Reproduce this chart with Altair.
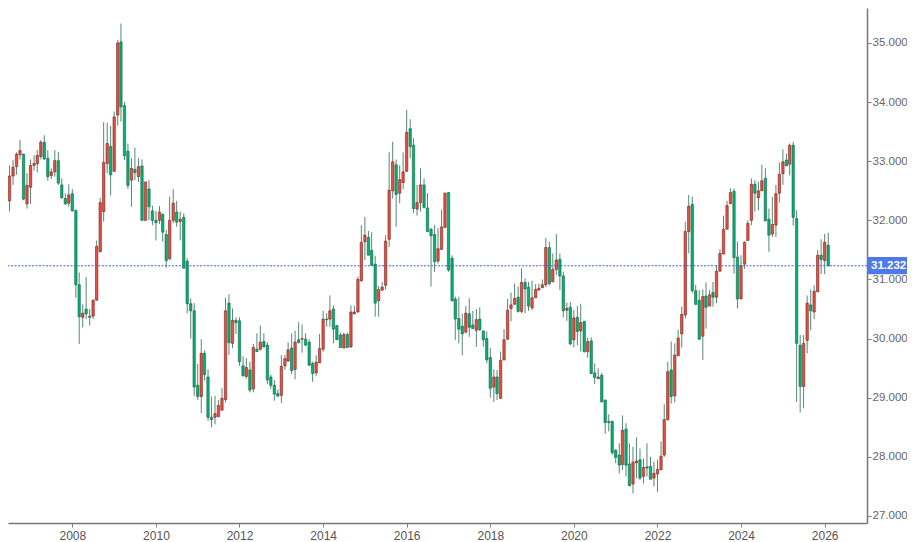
"""Monthly candlestick chart, red candles up, green candles down."""
import altair as alt
import pandas as pd

opens = [
    32.43, 31.92, 32.05, 32.33, 32.75, 32.91, 33.11, 33.12, 32.28, 32.56,
    32.93, 32.96, 33.08, 33.32, 33.05, 32.76, 32.82, 33.01, 32.60, 32.37,
    32.29, 32.45, 32.17, 30.91, 30.36, 30.50, 30.38, 30.38, 30.65, 31.47,
    32.15, 32.96, 33.25, 32.83, 33.78, 35.02, 33.94, 33.17, 32.68, 32.86,
    32.74, 32.92, 32.00, 32.53, 32.16, 32.00, 32.00, 32.10, 31.76, 31.35,
    32.00, 32.14, 31.98, 32.05, 31.31, 30.59, 30.47, 29.21, 29.02, 29.75,
    29.35, 28.67, 28.67, 28.68, 28.79, 28.97, 30.60, 29.92, 30.31, 30.30,
    29.54, 29.36, 29.47, 29.15, 29.82, 29.82, 29.95, 29.89, 29.35, 29.21,
    29.07, 29.04, 29.54, 29.62, 29.84, 29.48, 29.98, 29.99, 29.99, 29.94,
    29.58, 29.42, 29.59, 29.82, 30.33, 30.33, 30.50, 30.22, 30.06, 29.84,
    30.07, 29.86, 30.42, 30.45, 30.98, 31.64, 31.71, 31.49, 31.26, 30.64,
    30.82, 30.90, 31.68, 32.50, 32.94, 32.46, 32.64, 32.83, 33.55, 33.27,
    32.19, 32.30, 32.60, 32.21, 31.85, 31.76, 31.31, 31.51, 31.88, 32.47,
    31.36, 30.67, 30.34, 30.21, 30.11, 30.42, 30.23, 30.14, 30.33, 30.13,
    30.00, 29.68, 29.18, 29.35, 28.99, 29.64, 29.99, 30.51, 30.58, 30.70,
    30.46, 30.95, 30.87, 30.52, 30.69, 30.82, 30.86, 30.91, 31.54, 30.96,
    31.17, 31.34, 31.06, 30.48, 30.53, 29.98, 30.36, 30.13, 30.29, 29.78,
    29.96, 29.42, 29.32, 29.38, 28.96, 28.60, 28.60, 28.11, 28.03, 27.87,
    28.47, 27.88, 27.54, 27.90, 27.95, 27.67, 27.83, 27.84, 27.64, 27.71,
    27.78, 28.03, 28.63, 29.47, 29.03, 29.71, 30.08, 30.40, 31.81, 32.27,
    30.81, 30.65, 30.04, 30.72, 30.55, 30.78, 30.70, 31.14, 31.43, 31.85,
    32.28, 32.49, 31.38, 30.67, 31.26, 31.66, 32.00, 32.61, 32.38, 32.50,
    32.71, 32.02, 31.77, 31.92, 32.46, 32.79, 33.02, 32.95, 33.27, 32.03,
    29.89, 29.19, 29.97, 30.57, 30.45, 30.79, 31.41, 31.32, 31.58,
]
closes = [
    31.89, 32.03, 32.37, 32.75, 32.90, 33.12, 33.18, 32.36, 32.59, 32.93,
    32.96, 33.10, 33.32, 33.04, 32.74, 32.82, 33.01, 32.63, 32.38, 32.28,
    32.43, 32.16, 30.91, 30.37, 30.43, 30.42, 30.36, 30.65, 31.56, 32.30,
    32.98, 33.30, 32.77, 33.75, 35.00, 33.92, 33.09, 32.59, 32.88, 32.81,
    32.91, 32.00, 32.65, 32.23, 32.00, 31.96, 32.14, 31.80, 31.32, 32.00,
    32.29, 31.97, 32.02, 31.19, 30.59, 30.47, 29.18, 29.02, 29.75, 29.39,
    28.67, 28.63, 28.73, 28.87, 28.99, 30.47, 29.93, 30.31, 30.27, 29.61,
    29.37, 29.51, 29.13, 29.85, 29.78, 29.94, 29.86, 29.30, 29.21, 29.06,
    29.03, 29.53, 29.66, 29.81, 29.46, 29.94, 29.93, 30.00, 29.89, 29.55,
    29.41, 29.60, 29.83, 30.33, 30.32, 30.47, 30.16, 29.98, 29.85, 30.07,
    29.85, 30.45, 30.45, 31.00, 31.63, 31.75, 31.41, 31.24, 30.60, 30.83,
    30.87, 31.65, 32.51, 32.99, 32.44, 32.69, 32.82, 33.49, 33.25, 32.20,
    32.30, 32.60, 32.22, 31.81, 31.74, 31.30, 31.52, 31.89, 32.46, 31.16,
    30.64, 30.33, 30.16, 30.08, 30.43, 30.19, 30.17, 30.32, 30.15, 29.98,
    29.64, 29.16, 29.35, 29.07, 29.63, 29.98, 30.48, 30.57, 30.68, 30.46,
    30.95, 30.84, 30.55, 30.69, 30.83, 30.85, 30.91, 31.54, 30.93, 31.17,
    31.33, 31.06, 30.47, 30.51, 29.91, 30.35, 30.12, 30.27, 29.78, 29.95,
    29.41, 29.34, 29.35, 28.93, 28.58, 28.58, 28.07, 27.99, 27.86, 28.45,
    27.86, 27.51, 27.91, 27.93, 27.64, 27.82, 27.81, 27.62, 27.72, 27.79,
    28.01, 28.63, 29.44, 29.02, 29.72, 30.01, 30.41, 31.81, 32.24, 30.81,
    30.58, 29.99, 30.71, 30.53, 30.74, 30.70, 31.14, 31.44, 31.85, 32.25,
    32.47, 31.37, 30.67, 31.23, 31.63, 31.95, 32.61, 32.46, 32.50, 32.67,
    31.99, 31.75, 31.93, 32.45, 32.78, 32.99, 32.92, 33.27, 32.05, 29.92,
    29.19, 29.92, 30.60, 30.47, 30.80, 31.41, 31.34, 31.63, 31.23,
]
highs = [
    32.63, 32.26, 32.85, 32.93, 33.02, 33.15, 33.36, 33.13, 32.80, 33.03,
    33.10, 33.19, 33.36, 33.44, 33.19, 32.88, 33.19, 33.16, 32.71, 32.46,
    32.61, 32.53, 32.17, 31.12, 30.58, 31.04, 30.50, 30.66, 31.66, 32.38,
    33.66, 33.65, 33.60, 33.84, 35.05, 35.33, 34.00, 33.30, 33.05, 33.23,
    33.05, 33.03, 32.65, 32.68, 32.25, 32.16, 32.24, 32.12, 31.84, 32.40,
    32.53, 32.33, 32.15, 32.12, 31.36, 30.68, 30.60, 29.57, 29.99, 29.80,
    29.48, 29.02, 29.03, 28.96, 29.16, 30.69, 30.75, 30.51, 30.36, 30.36,
    29.70, 29.67, 29.61, 29.91, 30.09, 30.22, 30.09, 29.94, 29.39, 29.30,
    29.14, 29.72, 29.72, 29.94, 30.09, 30.13, 30.28, 30.24, 30.09, 29.99,
    29.61, 29.72, 30.08, 30.47, 30.43, 30.73, 30.56, 30.23, 30.10, 30.10,
    30.10, 30.56, 30.56, 31.05, 31.92, 32.06, 31.82, 31.80, 31.40, 30.89,
    30.96, 31.75, 33.15, 33.33, 33.03, 32.93, 33.15, 33.87, 33.71, 33.39,
    32.60, 32.88, 32.71, 32.46, 31.87, 31.92, 31.87, 32.18, 32.47, 32.48,
    31.41, 30.71, 30.71, 30.42, 30.55, 30.68, 30.47, 30.50, 30.53, 30.13,
    30.12, 29.84, 29.48, 29.47, 29.78, 30.16, 30.67, 30.78, 30.93, 30.88,
    31.19, 31.02, 30.96, 30.98, 30.92, 30.93, 31.00, 31.70, 31.64, 31.44,
    31.77, 31.44, 31.13, 30.61, 30.62, 30.48, 30.55, 30.59, 30.30, 30.02,
    30.02, 29.58, 29.50, 29.42, 28.97, 28.72, 28.61, 28.13, 28.23, 28.70,
    28.57, 28.23, 28.17, 28.33, 28.14, 27.97, 28.23, 28.00, 27.92, 27.95,
    28.26, 28.89, 29.61, 29.95, 29.92, 30.15, 30.54, 31.98, 32.43, 32.40,
    30.91, 30.82, 30.83, 30.95, 30.82, 30.96, 31.24, 31.51, 32.08, 32.33,
    32.54, 32.54, 31.64, 31.41, 31.64, 32.00, 32.71, 32.68, 32.65, 32.94,
    32.88, 32.20, 32.40, 32.60, 32.98, 33.20, 33.13, 33.30, 33.33, 32.17,
    30.06, 30.06, 30.73, 30.83, 30.90, 31.50, 31.68, 31.77, 31.79,
]
lows = [
    31.83, 31.33, 31.98, 32.15, 32.60, 32.77, 33.03, 32.34, 32.20, 32.28,
    32.84, 32.81, 33.03, 33.02, 32.67, 32.70, 32.74, 32.60, 32.37, 32.26,
    32.23, 32.15, 30.69, 29.91, 30.19, 30.33, 30.22, 30.33, 30.64, 31.46,
    31.98, 32.80, 32.42, 32.82, 33.60, 33.67, 33.02, 32.53, 32.23, 32.68,
    32.65, 32.00, 32.00, 32.00, 31.92, 31.66, 31.94, 31.64, 31.20, 31.33,
    31.95, 31.89, 31.66, 31.19, 30.43, 30.00, 29.03, 28.96, 28.74, 29.29,
    28.61, 28.50, 28.55, 28.67, 28.78, 28.92, 29.72, 29.84, 30.08, 29.54,
    29.36, 29.32, 29.09, 29.09, 29.78, 29.80, 29.85, 29.23, 29.15, 28.95,
    29.01, 28.91, 29.47, 29.61, 29.40, 29.31, 29.92, 29.76, 29.87, 29.54,
    29.27, 29.37, 29.59, 29.78, 30.20, 30.20, 29.92, 29.98, 29.84, 29.84,
    29.85, 29.84, 30.41, 30.44, 30.96, 31.33, 31.41, 31.23, 30.37, 30.37,
    30.81, 30.83, 31.55, 32.37, 31.89, 32.29, 32.53, 32.82, 33.05, 32.12,
    32.08, 32.15, 32.20, 31.81, 30.88, 31.13, 31.27, 31.50, 31.88, 31.13,
    30.63, 29.98, 29.92, 29.72, 30.09, 30.03, 30.17, 29.86, 30.13, 29.86,
    29.58, 29.00, 28.93, 28.96, 28.98, 29.63, 29.98, 30.29, 30.58, 30.44,
    30.43, 30.43, 30.47, 30.48, 30.69, 30.82, 30.86, 30.87, 30.90, 30.96,
    31.08, 30.82, 30.36, 30.30, 29.89, 29.85, 29.89, 29.78, 29.76, 29.68,
    29.40, 29.23, 29.32, 28.92, 28.39, 28.43, 28.03, 27.89, 27.72, 27.78,
    27.67, 27.51, 27.38, 27.64, 27.61, 27.55, 27.67, 27.62, 27.50, 27.41,
    27.78, 28.00, 28.61, 28.90, 28.92, 29.71, 29.85, 30.34, 31.44, 30.77,
    30.57, 29.98, 29.64, 30.17, 30.55, 30.54, 30.60, 31.14, 31.43, 31.85,
    32.28, 31.10, 30.51, 30.67, 31.18, 31.66, 31.92, 32.15, 32.17, 32.50,
    31.99, 31.47, 31.72, 31.72, 32.30, 32.60, 32.92, 32.76, 31.91, 28.93,
    28.75, 28.82, 29.75, 30.14, 30.33, 30.79, 31.09, 31.09, 31.23,
]
price_ticks = [27, 28, 29, 30, 31, 32, 33, 34, 35]
year_ticks = ['2008', '2010', '2012', '2014', '2016', '2018', '2020', '2022', '2024', '2026']
last_price = 31.232

df = pd.DataFrame({'open': opens, 'high': highs, 'low': lows, 'close': closes})
df['month'] = pd.date_range('2006-04-01', periods=len(df), freq='MS').strftime('%Y-%m-%d')
df['direction'] = ['up' if c >= o else 'down' for o, c in zip(opens, closes)]

# padding=0: bars would otherwise pull the time scale in by 5px a side
x_scale = alt.Scale(domain=['2006-06-18', '2027-01-06'], padding=0)
y_scale = alt.Scale(domain=[26.881, 35.592], nice=False, zero=False, padding=0)

x_axis = alt.Axis(
    values=[y + '-01-01' for y in year_ticks], format='%Y', title=None, grid=False,
    labelFontSize=12, labelColor='#555555', labelPadding=3, tickSize=4,
    tickColor='#808080', domainColor='#777777', domainWidth=1.5,
)
y_axis = alt.Axis(
    values=price_ticks, format='.3f', orient='right', title=None, grid=False,
    labelFontSize=11.5, labelColor='#666666', labelPadding=1, tickSize=4,
    tickColor='#808080', domainColor='#777777', domainWidth=1.5,
)

base = alt.Chart(df).encode(x=alt.X('month:T', scale=x_scale, axis=x_axis))

wicks = base.mark_rule(color='#1f5f45', strokeWidth=1, clip=True, opacity=0.75).encode(
    y=alt.Y('low:Q', scale=y_scale, axis=y_axis),
    y2='high:Q',
)
bodies = base.mark_bar(size=2.4, strokeWidth=0.55, clip=True).encode(
    y=alt.Y('open:Q', scale=y_scale),
    y2='close:Q',
    color=alt.Color('direction:N', scale=alt.Scale(domain=['up', 'down'], range=['#ea4f3f', '#04b273']), legend=None),
    stroke=alt.Stroke('direction:N', scale=alt.Scale(domain=['up', 'down'], range=['#6b1a1a', '#0d5a3c']), legend=None),
)

price_line = alt.Chart(pd.DataFrame({'price': [last_price]})).mark_rule(
    color='#3e62d8', strokeWidth=1, strokeDash=[2, 1.5],
).encode(y=alt.Y('price:Q', scale=y_scale))

tag_box = alt.Chart(pd.DataFrame({'top': [31.38], 'bottom': [31.09]})).mark_rect(
    color='#4f78e8', clip=False,
).encode(
    x=alt.value(859), x2=alt.value(899),
    y=alt.Y('top:Q', scale=y_scale), y2='bottom:Q',
)
tag_text = alt.Chart(pd.DataFrame({'price': [last_price]})).mark_text(
    color='white', fontSize=11.5, fontWeight='bold', align='left', baseline='middle',
).encode(
    x=alt.value(863), y=alt.Y('price:Q', scale=y_scale), text=alt.Text('price:Q', format='.3f'),
)

chart = alt.layer(wicks, bodies, price_line, tag_box, tag_text).properties(
    width=859, height=515,
    padding={'left': 0, 'top': 0, 'right': 40, 'bottom': 19},
    autosize=alt.AutoSizeParams(type='none'),
).resolve_scale(color='independent', stroke='independent').configure_view(
    stroke=None,
).configure_axis(
    labelFont='Liberation Sans',
).configure_text(font='Liberation Sans')

chart.save("out.html", embed_options={"renderer": "svg", "actions": False})
